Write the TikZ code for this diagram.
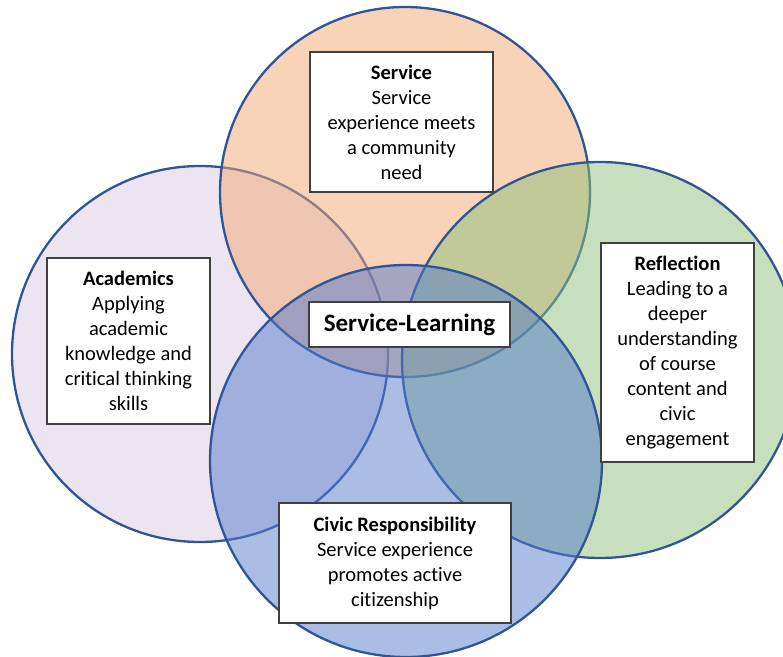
\documentclass[tikz,border=0pt]{standalone}
\usepackage{fontspec}
\setmainfont{Carlito}[Ligatures=NoCommon]
\definecolor{ringline}{HTML}{2F5597}
\definecolor{cleft}{HTML}{DBC9E5}
\definecolor{ctop}{HTML}{F1A771}
\definecolor{cright}{HTML}{8DBF79}
\definecolor{cbottom}{HTML}{537BCB}
\definecolor{boxline}{HTML}{404040}
\tikzset{
  ring/.style={circle, draw=ringline, line width=2.3pt, fill opacity=0.5, draw opacity=1, inner sep=0pt},
  textbox/.style={rectangle, draw=boxline, line width=1.2pt, fill=white, align=center, inner sep=0pt,
    font=\fontsize{20.5}{25}\selectfont},
}
\begin{document}
\begin{tikzpicture}[x=1pt,y=-1pt]
\useasboundingbox (0,0) rectangle (783,656);
\clip (0,0) rectangle (783,656);
\node[ring, fill=cleft, minimum size=376pt] (acad) at (200,354) {};
\node[ring, fill=ctop, minimum size=370pt] (serv) at (405,192) {};
\node[ring, fill=cright, minimum size=396pt] (refl) at (600,360) {};
\node[ring, fill=cbottom, minimum size=392pt] (civic) at (406,461) {};

\node[textbox, minimum width=183pt, minimum height=140pt] (tserv) at (401.5,122)
  {\textbf{Service}\\Service\\experience meets\\a community\\need};
\node[textbox, minimum width=163pt, minimum height=166pt] (tacad) at (128.5,341)
  {\textbf{Academics}\\Applying\\academic\\knowledge and\\critical thinking\\skills};
\node[textbox, minimum width=153pt, minimum height=219pt] (trefl) at (677.5,352.5)
  {\textbf{Reflection}\\Leading to a\\deeper\\understanding\\of course\\content and\\civic\\engagement};
\node[textbox, minimum width=232pt, minimum height=120pt] (tcivic) at (395,563)
  {\textbf{Civic Responsibility}\\Service experience\\promotes active\\citizenship};
\node[textbox, minimum width=201pt, minimum height=45pt, font=\fontsize{25}{30}\selectfont\bfseries] (tsl) at (409.5,324.5)
  {Service-Learning};
\end{tikzpicture}
\end{document}
